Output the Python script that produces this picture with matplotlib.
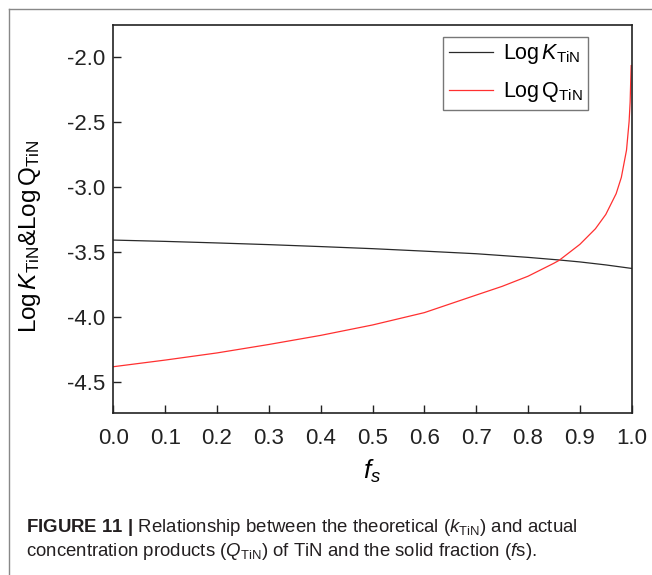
import matplotlib
matplotlib.use("Agg")
import matplotlib.pyplot as plt
from matplotlib.lines import Line2D

plt.rcParams['font.family'] = ['Liberation Sans', 'DejaVu Sans']
plt.rcParams['mathtext.fontset'] = 'custom'
plt.rcParams['mathtext.rm'] = 'Liberation Sans'
plt.rcParams['mathtext.it'] = 'Liberation Sans:italic'
plt.rcParams['mathtext.bf'] = 'Liberation Sans:bold'

# Data
fs_k = [0.0, 0.1, 0.2, 0.3, 0.4, 0.5, 0.6, 0.7, 0.8, 0.86, 0.9, 0.95, 1.0]
log_k = [-3.412, -3.422, -3.434, -3.447, -3.462, -3.478, -3.497, -3.517,
         -3.545, -3.565, -3.580, -3.603, -3.630]

fs_q = [0.0, 0.1, 0.2, 0.3, 0.4, 0.5, 0.6, 0.7, 0.75, 0.8, 0.85, 0.86,
        0.9, 0.93, 0.95, 0.97, 0.98, 0.99, 0.995, 0.997, 0.9985, 0.999]
log_q = [-4.386, -4.335, -4.280, -4.215, -4.145, -4.065, -3.970, -3.835,
         -3.768, -3.690, -3.590, -3.568, -3.445, -3.325, -3.215, -3.055,
         -2.930, -2.720, -2.500, -2.350, -2.130, -2.070]

xticks = [0.0, 0.1, 0.2, 0.3, 0.4, 0.5, 0.6, 0.7, 0.8, 0.9, 1.0]
yticks = [-2.0, -2.5, -3.0, -3.5, -4.0, -4.5]

W, H = 652, 575
fig = plt.figure(figsize=(W / 100, H / 100), dpi=100)
L, R, T, B = 113.3, 631.7, 25.3, 413.0
ax = fig.add_axes([L / W, 1 - B / H, (R - L) / W, (B - T) / H])

ax.plot(fs_k, log_k, color='#2a2a2a', lw=0.9, label=r'Log$\,\mathit{K}_{\mathrm{TiN}}$')
ax.plot(fs_q, log_q, color='#ff3030', lw=0.9, label=r'Log$\,\mathrm{Q}_{\mathrm{TiN}}$')

ax.set_xlim(0.0, 1.0)
ax.set_ylim(-4.742, -1.76)
ax.set_xticks(xticks)
ax.set_xticklabels([f'{v:.1f}' for v in xticks])
ax.set_yticks(yticks)
ax.set_yticklabels([f'{v:.1f}' for v in yticks])
ax.tick_params(direction='in', length=6, width=1.0, labelsize=16, colors='#222222')
ax.tick_params(axis='x', pad=11)
ax.tick_params(axis='y', pad=6)
for s in ax.spines.values():
    s.set_linewidth(1.2)
    s.set_color('#222222')

ax.set_xlabel(r'$\mathit{f}_{\mathit{s}}$', fontsize=19, labelpad=6)
ax.set_ylabel(r'Log$\,\mathit{K}_{\mathrm{TiN}}$&Log$\,\mathrm{Q}_{\mathrm{TiN}}$',
              fontsize=17.5, labelpad=10)
ax.yaxis.set_label_coords(-0.136, 0.455)

leg = ax.legend(loc='upper right', bbox_to_anchor=(0.9157, 0.970), borderaxespad=0,
                fontsize=15.5, frameon=True, fancybox=False, handlelength=2.05,
                handletextpad=0.45, borderpad=0.25, labelspacing=0.65)
leg.get_frame().set_edgecolor('#555555')
leg.get_frame().set_linewidth(1.0)

# page frame lines
fig.add_artist(Line2D([8.5 / W, 1.0], [1 - 8.5 / H, 1 - 8.5 / H], color='#888888', lw=1.0))
fig.add_artist(Line2D([8.5 / W, 8.5 / W], [0.0, 1 - 8.5 / H], color='#888888', lw=1.0))

cap1 = (r'$\mathbf{FIGURE\ 11\ |}$ Relationship between the theoretical '
        r'($\mathit{k}_{\mathrm{TiN}}$) and actual')
cap2 = (r'concentration products ($\mathit{Q}_{\mathrm{TiN}}$) of TiN and the solid '
        r'fraction ($\mathit{f}$s).')
fig.text(26 / W, 1 - 528 / H, cap1, fontsize=13.4, color='#231f20', va='center', ha='left')
fig.text(26 / W, 1 - 551 / H, cap2, fontsize=13.4, color='#231f20', va='center', ha='left')

fig.savefig('out.png', dpi=100)
